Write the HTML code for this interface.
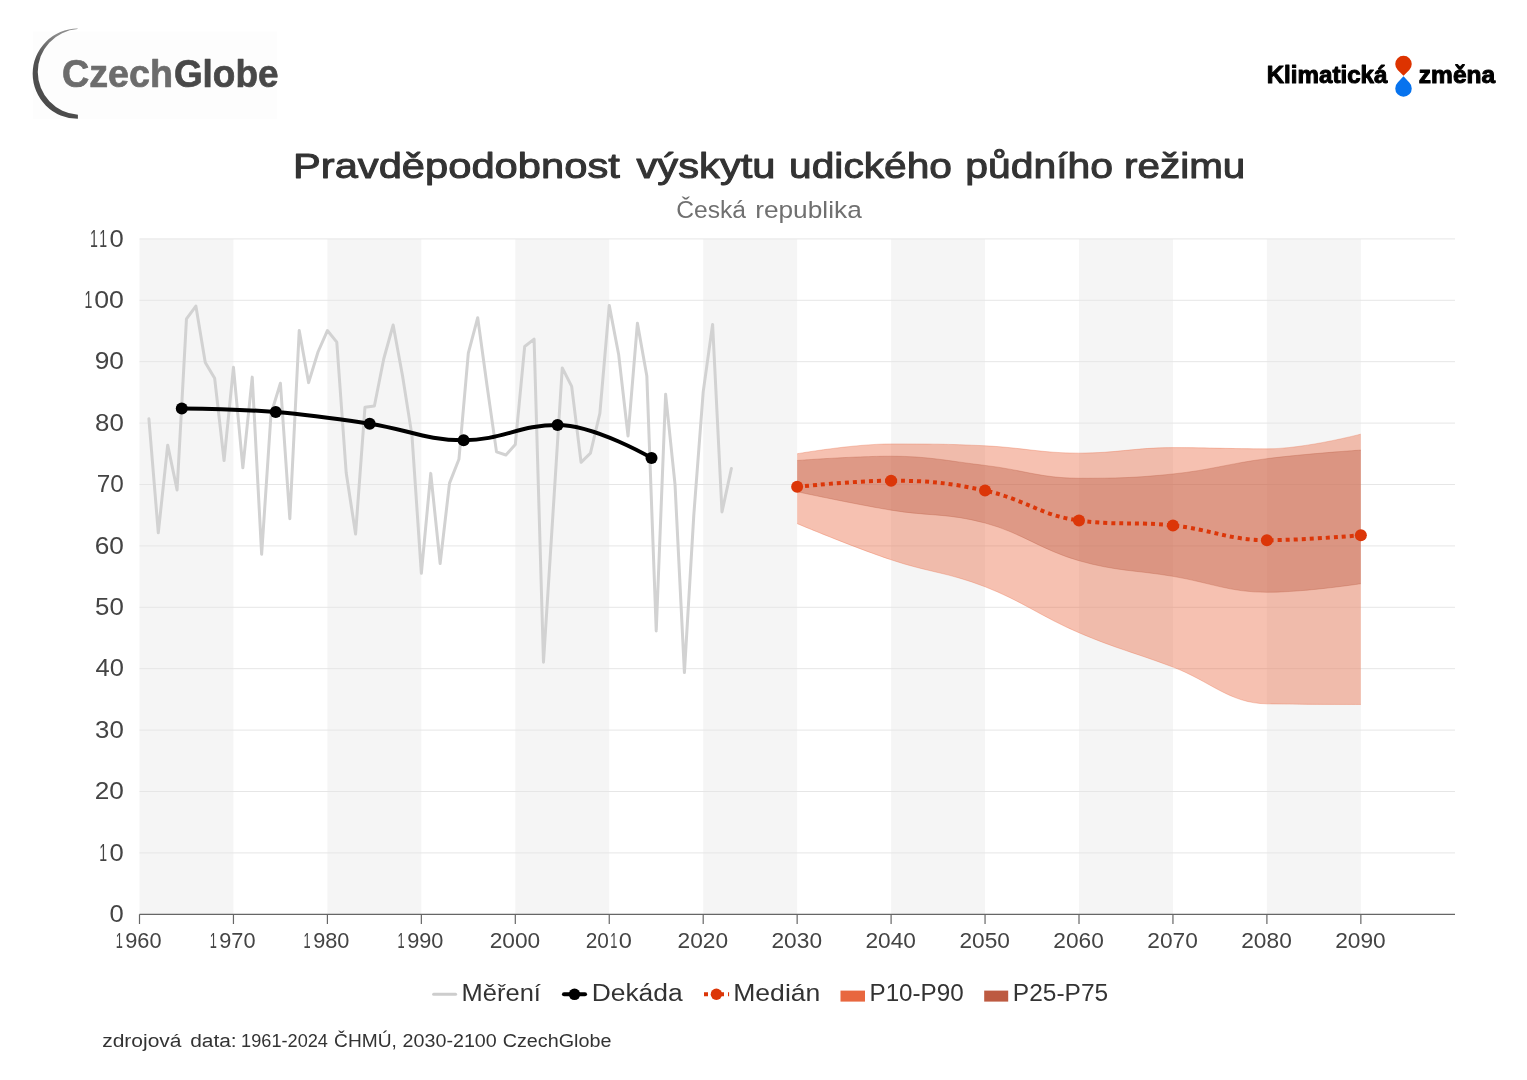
<!DOCTYPE html>
<html lang="cs"><head><meta charset="utf-8"><title>Pravděpodobnost výskytu udického půdního režimu</title>
<style>html,body{margin:0;padding:0;background:#fff;}body{width:1527px;height:1080px;overflow:hidden;font-family:"Liberation Sans",sans-serif;}svg{display:block;transform:translateZ(0);will-change:transform;}</style></head>
<body>
<svg width="1527" height="1080" viewBox="0 0 1527 1080" font-family="'Liberation Sans', sans-serif">
<defs><linearGradient id="arcg" x1="0" y1="1" x2="0.35" y2="0"><stop offset="0" stop-color="#484848"/><stop offset="0.6" stop-color="#505050"/><stop offset="1" stop-color="#8a8a8a"/></linearGradient></defs>
<rect width="1527" height="1080" fill="#fff"/>
<rect x="33" y="31.5" width="244" height="87.5" fill="#fdfdfd"/>
<path d="M77.6 28.6A45.05 45.05 0 0 0 77.9 118.8L77.9 114.7A42.9 42.9 0 0 1 77.6 29.1Z" fill="url(#arcg)"/>
<text transform="matrix(0.9559 0 0 1 61.97 87.3)" font-size="39.5" font-weight="700" fill="#6c6c6c" stroke="#6c6c6c" stroke-width="0.7" stroke-linejoin="round">Czech</text>
<text transform="matrix(0.9343 0 0 1 173.9 87.3)" font-size="39.5" font-weight="700" fill="#484848" stroke="#484848" stroke-width="0.7" stroke-linejoin="round">Globe</text>
<text transform="matrix(1.0143 0 0 1 1266.69 82.5)" font-size="23.8" font-weight="700" fill="#000" stroke="#000" stroke-width="1" stroke-linejoin="round">Klimatická</text>
<text transform="matrix(1.0302 0 0 1 1418.83 82.5)" font-size="23.8" font-weight="700" fill="#000" stroke="#000" stroke-width="1" stroke-linejoin="round">změna</text>
<path d="M1403.5 75.7L1397.7 69.9A8.25 8.25 0 1 1 1409.3 69.9Z" fill="#dd3300"/>
<path d="M1403.5 76.3L1397.7 82.6A8.25 8.25 0 1 0 1409.3 82.6Z" fill="#0773ee"/>
<text transform="matrix(1.1714 0 0 1 292.94 178.2)" font-size="35.6" font-weight="400" fill="#333" stroke="#333" stroke-width="1" stroke-linejoin="round">Pravděpodobnost</text>
<text transform="matrix(1.1723 0 0 1 636.5 178.2)" font-size="35.6" font-weight="400" fill="#333" stroke="#333" stroke-width="1" stroke-linejoin="round">výskytu</text>
<text transform="matrix(1.1438 0 0 1 789.06 178.2)" font-size="35.6" font-weight="400" fill="#333" stroke="#333" stroke-width="1" stroke-linejoin="round">udického</text>
<text transform="matrix(1.1494 0 0 1 965.24 178.2)" font-size="35.6" font-weight="400" fill="#333" stroke="#333" stroke-width="1" stroke-linejoin="round">půdního</text>
<text transform="matrix(1.1356 0 0 1 1124.07 178.2)" font-size="35.6" font-weight="400" fill="#333" stroke="#333" stroke-width="1" stroke-linejoin="round">režimu</text>
<text transform="matrix(1.0065 0 0 1 676.14 217.6)" font-size="24.5" font-weight="400" fill="#707070">Česká</text>
<text transform="matrix(1.0729 0 0 1 755.16 217.6)" font-size="24.5" font-weight="400" fill="#707070">republika</text>
<rect x="139.5" y="238.9" width="93.95" height="675.4" fill="#f5f5f5"/>
<rect x="327.4" y="238.9" width="93.95" height="675.4" fill="#f5f5f5"/>
<rect x="515.3" y="238.9" width="93.95" height="675.4" fill="#f5f5f5"/>
<rect x="703.2" y="238.9" width="93.95" height="675.4" fill="#f5f5f5"/>
<rect x="891.1" y="238.9" width="93.95" height="675.4" fill="#f5f5f5"/>
<rect x="1079" y="238.9" width="93.95" height="675.4" fill="#f5f5f5"/>
<rect x="1266.9" y="238.9" width="93.95" height="675.4" fill="#f5f5f5"/>
<path d="M139.5 852.9H1455" stroke="#e6e6e6" stroke-width="1" fill="none"/>
<path d="M139.5 791.5H1455" stroke="#e6e6e6" stroke-width="1" fill="none"/>
<path d="M139.5 730.1H1455" stroke="#e6e6e6" stroke-width="1" fill="none"/>
<path d="M139.5 668.7H1455" stroke="#e6e6e6" stroke-width="1" fill="none"/>
<path d="M139.5 607.3H1455" stroke="#e6e6e6" stroke-width="1" fill="none"/>
<path d="M139.5 545.9H1455" stroke="#e6e6e6" stroke-width="1" fill="none"/>
<path d="M139.5 484.5H1455" stroke="#e6e6e6" stroke-width="1" fill="none"/>
<path d="M139.5 423.1H1455" stroke="#e6e6e6" stroke-width="1" fill="none"/>
<path d="M139.5 361.7H1455" stroke="#e6e6e6" stroke-width="1" fill="none"/>
<path d="M139.5 300.3H1455" stroke="#e6e6e6" stroke-width="1" fill="none"/>
<path d="M139.5 238.9H1455" stroke="#e6e6e6" stroke-width="1" fill="none"/>
<polyline points="148.9,418.81 158.29,532.83 167.69,445.17 177.08,489.92 186.47,318.89 195.87,306.02 205.26,362.41 214.66,378.35 224.06,460.49 233.45,367.32 242.84,467.85 252.24,377.12 261.63,554.28 271.03,413.91 280.42,383.25 289.82,518.73 299.22,330.54 308.61,382.64 318,351.99 327.4,330.54 336.79,342.18 346.19,472.75 355.58,534.05 364.98,407.16 374.38,405.94 383.77,358.74 393.16,325.02 402.56,375.9 411.95,435.36 421.35,573.29 430.75,473.37 440.14,563.48 449.53,483.17 458.93,459.27 468.32,353.22 477.72,317.66 487.12,386.32 496.51,451.91 505.9,454.98 515.3,444.56 524.69,346.48 534.09,339.12 543.48,662.17 552.88,515.05 562.27,367.93 571.67,386.32 581.07,462.33 590.46,453.14 599.86,413.29 609.25,305.4 618.64,354.44 628.04,435.97 637.43,323.18 646.83,375.9 656.23,630.91 665.62,394.29 675.01,484.4 684.41,672.59 693.8,515.05 703.2,391.84 712.6,324.41 721.99,511.99 731.38,468.46" fill="none" stroke="#d2d2d2" stroke-width="3" stroke-linejoin="round" stroke-linecap="round"/>
<path d="M797.15 453.75C797.15 453.75 853.52 443.94 891.1 443.94C928.68 443.94 947.47 443.94 985.05 445.78C1022.63 447.62 1041.42 453.14 1079 453.14C1116.58 453.14 1135.37 447.62 1172.95 447.62C1210.53 447.62 1229.32 448.85 1266.9 448.85C1304.48 448.85 1360.85 434.13 1360.85 434.13L1360.85 704.47C1360.85 704.47 1304.48 704.47 1266.9 703.85C1229.32 703.24 1210.53 681.3 1172.95 667.07C1135.37 652.85 1116.58 648.81 1079 632.75C1041.42 616.69 1022.63 601.36 985.05 586.77C947.47 572.18 928.68 572.43 891.1 559.8C853.52 547.17 797.15 523.63 797.15 523.63Z" fill="#e8643c" fill-opacity="0.4"/>
<path d="M797.15 453.75C797.15 453.75 853.52 443.94 891.1 443.94C928.68 443.94 947.47 443.94 985.05 445.78C1022.63 447.62 1041.42 453.14 1079 453.14C1116.58 453.14 1135.37 447.62 1172.95 447.62C1210.53 447.62 1229.32 448.85 1266.9 448.85C1304.48 448.85 1360.85 434.13 1360.85 434.13" fill="none" stroke="#e8643c" stroke-opacity="0.3" stroke-width="1"/>
<path d="M797.15 523.63C797.15 523.63 853.52 547.17 891.1 559.8C928.68 572.43 947.47 572.18 985.05 586.77C1022.63 601.36 1041.42 616.69 1079 632.75C1116.58 648.81 1135.37 652.85 1172.95 667.07C1210.53 681.3 1229.32 703.24 1266.9 703.85C1304.48 704.47 1360.85 704.47 1360.85 704.47" fill="none" stroke="#e8643c" stroke-opacity="0.3" stroke-width="1"/>
<path d="M797.15 460.49C797.15 460.49 853.52 456.2 891.1 456.2C928.68 456.2 947.47 460.98 985.05 465.4C1022.63 469.81 1041.42 478.27 1079 478.27C1116.58 478.27 1135.37 477.9 1172.95 473.98C1210.53 470.06 1229.32 463.44 1266.9 458.65C1304.48 453.87 1360.85 450.07 1360.85 450.07L1360.85 583.71C1360.85 583.71 1304.48 592.29 1266.9 592.29C1229.32 592.29 1210.53 582.66 1172.95 576.35C1135.37 570.04 1116.58 571.38 1079 560.72C1041.42 550.05 1022.63 533.13 985.05 523.02C947.47 512.9 928.68 516.4 891.1 510.15C853.52 503.89 797.15 491.76 797.15 491.76Z" fill="#b85840" fill-opacity="0.375"/>
<path d="M797.15 460.49C797.15 460.49 853.52 456.2 891.1 456.2C928.68 456.2 947.47 460.98 985.05 465.4C1022.63 469.81 1041.42 478.27 1079 478.27C1116.58 478.27 1135.37 477.9 1172.95 473.98C1210.53 470.06 1229.32 463.44 1266.9 458.65C1304.48 453.87 1360.85 450.07 1360.85 450.07" fill="none" stroke="#b85840" stroke-opacity="0.3" stroke-width="1"/>
<path d="M797.15 491.76C797.15 491.76 853.52 503.89 891.1 510.15C928.68 516.4 947.47 512.9 985.05 523.02C1022.63 533.13 1041.42 550.05 1079 560.72C1116.58 571.38 1135.37 570.04 1172.95 576.35C1210.53 582.66 1229.32 592.29 1266.9 592.29C1304.48 592.29 1360.85 583.71 1360.85 583.71" fill="none" stroke="#b85840" stroke-opacity="0.3" stroke-width="1"/>
<path d="M181.78 408.39C181.78 408.39 238.15 409 275.73 412.07C313.31 415.13 332.1 418.07 369.68 423.71C407.26 429.35 426.05 440.26 463.63 440.26C501.21 440.26 520 424.94 557.58 424.94C595.16 424.94 651.53 458.04 651.53 458.04" fill="none" stroke="#000" stroke-width="4" stroke-linecap="round"/>
<circle cx="181.78" cy="408.39" r="6" fill="#000"/>
<circle cx="275.73" cy="412.07" r="6" fill="#000"/>
<circle cx="369.68" cy="423.71" r="6" fill="#000"/>
<circle cx="463.63" cy="440.26" r="6" fill="#000"/>
<circle cx="557.58" cy="424.94" r="6" fill="#000"/>
<circle cx="651.53" cy="458.04" r="6" fill="#000"/>
<path d="M797.15 486.85C797.15 486.85 853.52 480.72 891.1 480.72C928.68 480.72 947.47 482.56 985.05 490.53C1022.63 498.5 1041.42 515.66 1079 520.57C1116.58 525.47 1135.37 521.55 1172.95 525.47C1210.53 529.39 1229.32 540.18 1266.9 540.18C1304.48 540.18 1360.85 535.28 1360.85 535.28" fill="none" stroke="#dc3608" stroke-width="4" stroke-dasharray="4 4"/>
<circle cx="797.15" cy="486.85" r="6" fill="#dc3608"/>
<circle cx="891.1" cy="480.72" r="6" fill="#dc3608"/>
<circle cx="985.05" cy="490.53" r="6" fill="#dc3608"/>
<circle cx="1079" cy="520.57" r="6" fill="#dc3608"/>
<circle cx="1172.95" cy="525.47" r="6" fill="#dc3608"/>
<circle cx="1266.9" cy="540.18" r="6" fill="#dc3608"/>
<circle cx="1360.85" cy="535.28" r="6" fill="#dc3608"/>
<path d="M139.5 914.3H1455" stroke="#666" stroke-width="1.3" fill="none"/>
<path d="M139.5 914.3v9.7" stroke="#666" stroke-width="1.2" fill="none"/>
<text transform="matrix(0.5818 0 0 1 115.7 948.1)" font-size="22" font-weight="400" fill="#444">1</text>
<text transform="matrix(0.9878 0 0 1 125.28 948.1)" font-size="22" font-weight="400" fill="#444">960</text>
<path d="M233.45 914.3v9.7" stroke="#666" stroke-width="1.2" fill="none"/>
<text transform="matrix(0.5818 0 0 1 209.65 948.1)" font-size="22" font-weight="400" fill="#444">1</text>
<text transform="matrix(0.9878 0 0 1 219.23 948.1)" font-size="22" font-weight="400" fill="#444">970</text>
<path d="M327.4 914.3v9.7" stroke="#666" stroke-width="1.2" fill="none"/>
<text transform="matrix(0.5818 0 0 1 303.6 948.1)" font-size="22" font-weight="400" fill="#444">1</text>
<text transform="matrix(0.9878 0 0 1 313.18 948.1)" font-size="22" font-weight="400" fill="#444">980</text>
<path d="M421.35 914.3v9.7" stroke="#666" stroke-width="1.2" fill="none"/>
<text transform="matrix(0.5818 0 0 1 397.55 948.1)" font-size="22" font-weight="400" fill="#444">1</text>
<text transform="matrix(0.9878 0 0 1 407.13 948.1)" font-size="22" font-weight="400" fill="#444">990</text>
<path d="M515.3 914.3v9.7" stroke="#666" stroke-width="1.2" fill="none"/>
<text transform="matrix(1.0325 0 0 1 489.64 948.1)" font-size="22" font-weight="400" fill="#444">2000</text>
<path d="M609.25 914.3v9.7" stroke="#666" stroke-width="1.2" fill="none"/>
<text transform="matrix(0.9479 0 0 1 585.67 948.1)" font-size="22" font-weight="400" fill="#444">20</text>
<text transform="matrix(0.5818 0 0 1 610.25 948.1)" font-size="22" font-weight="400" fill="#444">1</text>
<text transform="matrix(1.0727 0 0 1 618.71 948.1)" font-size="22" font-weight="400" fill="#444">0</text>
<path d="M703.2 914.3v9.7" stroke="#666" stroke-width="1.2" fill="none"/>
<text transform="matrix(1.0325 0 0 1 677.54 948.1)" font-size="22" font-weight="400" fill="#444">2020</text>
<path d="M797.15 914.3v9.7" stroke="#666" stroke-width="1.2" fill="none"/>
<text transform="matrix(1.0325 0 0 1 771.49 948.1)" font-size="22" font-weight="400" fill="#444">2030</text>
<path d="M891.1 914.3v9.7" stroke="#666" stroke-width="1.2" fill="none"/>
<text transform="matrix(1.0325 0 0 1 865.44 948.1)" font-size="22" font-weight="400" fill="#444">2040</text>
<path d="M985.05 914.3v9.7" stroke="#666" stroke-width="1.2" fill="none"/>
<text transform="matrix(1.0325 0 0 1 959.39 948.1)" font-size="22" font-weight="400" fill="#444">2050</text>
<path d="M1079 914.3v9.7" stroke="#666" stroke-width="1.2" fill="none"/>
<text transform="matrix(1.0325 0 0 1 1053.34 948.1)" font-size="22" font-weight="400" fill="#444">2060</text>
<path d="M1172.95 914.3v9.7" stroke="#666" stroke-width="1.2" fill="none"/>
<text transform="matrix(1.0325 0 0 1 1147.29 948.1)" font-size="22" font-weight="400" fill="#444">2070</text>
<path d="M1266.9 914.3v9.7" stroke="#666" stroke-width="1.2" fill="none"/>
<text transform="matrix(1.0325 0 0 1 1241.24 948.1)" font-size="22" font-weight="400" fill="#444">2080</text>
<path d="M1360.85 914.3v9.7" stroke="#666" stroke-width="1.2" fill="none"/>
<text transform="matrix(1.0325 0 0 1 1335.19 948.1)" font-size="22" font-weight="400" fill="#444">2090</text>
<text transform="matrix(1.0667 0 0 1 109.6 921.9)" font-size="24" font-weight="400" fill="#444">0</text>
<text transform="matrix(0.5885 0 0 1 99.32 860.5)" font-size="24" font-weight="400" fill="#444">1</text>
<text transform="matrix(1.0667 0 0 1 109.6 860.5)" font-size="24" font-weight="400" fill="#444">0</text>
<text transform="matrix(1.0932 0 0 1 94.67 799.1)" font-size="24" font-weight="400" fill="#444">20</text>
<text transform="matrix(1.0770 0 0 1 95.09 737.7)" font-size="24" font-weight="400" fill="#444">30</text>
<text transform="matrix(1.0613 0 0 1 95.5 676.3)" font-size="24" font-weight="400" fill="#444">40</text>
<text transform="matrix(1.0770 0 0 1 95.09 614.9)" font-size="24" font-weight="400" fill="#444">50</text>
<text transform="matrix(1.0932 0 0 1 94.67 553.5)" font-size="24" font-weight="400" fill="#444">60</text>
<text transform="matrix(1.0131 0 0 1 96.76 492.1)" font-size="24" font-weight="400" fill="#444">70</text>
<text transform="matrix(1.0770 0 0 1 95.09 430.7)" font-size="24" font-weight="400" fill="#444">80</text>
<text transform="matrix(1.0932 0 0 1 94.67 369.3)" font-size="24" font-weight="400" fill="#444">90</text>
<text transform="matrix(0.5885 0 0 1 84.52 307.9)" font-size="24" font-weight="400" fill="#444">1</text>
<text transform="matrix(1.1125 0 0 1 94.17 307.9)" font-size="24" font-weight="400" fill="#444">00</text>
<text transform="matrix(0.5885 0 0 1 89.92 246.5)" font-size="24" font-weight="400" fill="#444">1</text>
<text transform="matrix(0.5885 0 0 1 99.32 246.5)" font-size="24" font-weight="400" fill="#444">1</text>
<text transform="matrix(1.0667 0 0 1 109.6 246.5)" font-size="24" font-weight="400" fill="#444">0</text>
<path d="M433.6 994.3H455.6" stroke="#cdcdcd" stroke-width="3" stroke-linecap="round"/>
<text transform="matrix(1.0400 0 0 1 461.61 1001.3)" font-size="24.5" font-weight="400" fill="#333">Měření</text>
<path d="M564 994.3H585" stroke="#000" stroke-width="4.1" stroke-linecap="round"/>
<circle cx="574.5" cy="994.3" r="5.8" fill="#000"/>
<text transform="matrix(1.0788 0 0 1 591.64 1001.3)" font-size="24.5" font-weight="400" fill="#333">Dekáda</text>
<path d="M704 994.3H729.1" stroke="#dc3608" stroke-width="4.1" stroke-dasharray="4 4"/>
<circle cx="716.4" cy="994.3" r="5.7" fill="#dc3608"/>
<text transform="matrix(1.0848 0 0 1 733.22 1001.3)" font-size="24.5" font-weight="400" fill="#333">Medián</text>
<rect x="840.5" y="990.6" width="24.5" height="11" fill="#e8673f"/>
<text transform="matrix(0.9879 0 0 1 869.51 1001.3)" font-size="24.5" font-weight="400" fill="#333">P10-P90</text>
<rect x="984.2" y="990.6" width="24" height="11" fill="#bd5a41"/>
<text transform="matrix(1.0007 0 0 1 1012.78 1001.3)" font-size="24.5" font-weight="400" fill="#333">P25-P75</text>
<text transform="matrix(1.1059 0 0 1 102.14 1047)" font-size="19" font-weight="400" fill="#333">zdrojová</text>
<text transform="matrix(1.1014 0 0 1 190.15 1047)" font-size="19" font-weight="400" fill="#333">data:</text>
<text transform="matrix(0.9574 0 0 1 241.06 1047)" font-size="19" font-weight="400" fill="#333">1961-2024</text>
<text transform="matrix(1.0090 0 0 1 334.1 1047)" font-size="19" font-weight="400" fill="#333">ČHMÚ,</text>
<text transform="matrix(1.0369 0 0 1 402.58 1047)" font-size="19" font-weight="400" fill="#333">2030-2100</text>
<text transform="matrix(1.0409 0 0 1 502.67 1047)" font-size="19" font-weight="400" fill="#333">CzechGlobe</text>
</svg>
</body></html>
